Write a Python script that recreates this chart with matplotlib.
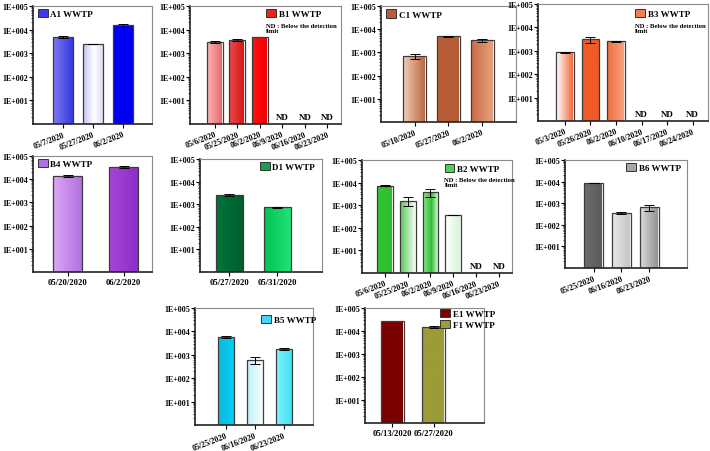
import numpy as np
import matplotlib
matplotlib.use('Agg')
import matplotlib.pyplot as plt
from matplotlib.colors import to_rgb
from matplotlib.patches import Patch
from matplotlib.ticker import FixedLocator, LogLocator, NullFormatter

# ---------------- data ----------------
a1_dates = ['05/7/2020', '05/27/2020', '06/2/2020']
a1_values = [4800, 2450, 15000]
a1_errors = [500, 80, 2500]

b1_dates = ['05/6/2020', '05/25/2020', '06/2/2020', '06/9/2020', '06/16/2020', '06/23/2020']
b1_values = [2950, 3600, 4900]
b1_errors = [250, 250, 0]

c1_dates = ['05/10/2020', '05/27/2020', '06/2/2020']
c1_values = [700, 5000, 3400]
c1_errors = [170, 200, 500]

b3_dates = ['05/3/2020', '05/26/2020', '06/2/2020', '06/10/2020', '06/17/2020', '06/24/2020']
b3_values = [870, 3100, 2600]
b3_errors = [60, 900, 150]

b4_dates = ['05/20/2020', '06/2/2020']
b4_values = [14000, 34500]
b4_errors = [1500, 3000]

d1_dates = ['05/27/2020', '05/31/2020']
d1_values = [2600, 730]
d1_errors = [200, 40]

b2_dates = ['05/6/2020', '05/25/2020', '06/2/2020', '06/9/2020', '06/16/2020', '06/23/2020']
b2_values = [7300, 1600, 3700, 370]
b2_errors = [400, 700, 1300, 10]

b6_dates = ['05/25/2020', '06/16/2020', '06/23/2020']
b6_values = [8700, 355, 650]
b6_errors = [150, 30, 200]

b5_dates = ['05/25/2020', '06/16/2020', '06/23/2020']
b5_values = [5900, 600, 1780]
b5_errors = [700, 180, 150]

ef_dates = ['05/13/2020', '05/27/2020']
ef_values = [26500, 15400]
ef_errors = [0, 1500]
ef_labels = ['E1 WWTP', 'F1 WWTP']

ytick_values = [1e1, 1e2, 1e3, 1e4, 1e5]
ytick_labels = ['1E+001', '1E+002', '1E+003', '1E+004', '1E+005']
ND_NOTE = 'ND : Below the detection\nlimit'

# ---------------- drawing ----------------
W, H = 710, 452
fig = plt.figure(figsize=(W / 100, H / 100), dpi=100)
SERIF = ['Liberation Serif', 'DejaVu Serif']


def gradient_image(colors):
    cols = np.array([to_rgb(c) for c in colors])
    pos = np.linspace(0, 1, len(cols))
    t = np.linspace(0, 1, 96)
    img = np.stack([np.interp(t, pos, cols[:, k]) for k in range(3)], axis=-1)
    return img[None, :, :]


def panel(box, cats, vals, errs, grads, xlim, width, rot, labels, leg_colors,
          leg_xy, nd_note_xy=None):
    l, r, t, b = box
    ax = fig.add_axes([l / W, 1 - b / H, (r - l) / W, (b - t) / H])
    ax.set_yscale('log')
    x = np.arange(len(cats))
    nv = len(vals)
    for xi, v, g in zip(x[:nv], vals, grads):
        ax.imshow(gradient_image(g), extent=[xi - width / 2, xi + width / 2, 1, v],
                  aspect='auto', zorder=2, interpolation='bilinear')
    ax.bar(x[:nv], vals, width=width, facecolor='none', edgecolor='#3c3c3c',
           linewidth=0.9, zorder=3)
    ex = [xi for xi, e in zip(x[:nv], errs) if e > 0]
    ev = [v for v, e in zip(vals, errs) if e > 0]
    ee = [e for e in errs if e > 0]
    if ex:
        ax.errorbar(ex, ev, yerr=ee, fmt='none', ecolor='black', elinewidth=0.7,
                    capsize=3.5, capthick=0.7, zorder=4)
    for xi in x[nv:]:
        ax.text(xi, 1.35, 'ND', ha='center', va='bottom', fontsize=6.5,
                family=SERIF, weight='bold')
    ax.set_xlim(*xlim)
    ax.set_ylim(1, 1e5)
    ax.yaxis.set_major_locator(FixedLocator(ytick_values))
    ax.set_yticklabels(ytick_labels)
    ax.yaxis.set_minor_locator(LogLocator(base=10, subs=np.arange(2, 10), numticks=20))
    ax.yaxis.set_minor_formatter(NullFormatter())
    ax.set_xticks(x)
    if rot:
        ax.set_xticklabels(cats, rotation=21, ha='right', rotation_mode='anchor')
        xfs = 5.8
    else:
        ax.set_xticklabels(cats)
        xfs = 6.2
    for lab in ax.get_xticklabels():
        lab.set_family(SERIF)
        lab.set_weight('bold')
        lab.set_fontsize(xfs)
    for lab in ax.get_yticklabels():
        lab.set_family(SERIF)
        lab.set_weight('bold')
        lab.set_fontsize(5.8)
    ax.tick_params(axis='y', which='major', length=3, width=0.8, pad=0.6)
    ax.tick_params(axis='y', which='minor', length=1.6, width=0.5)
    ax.tick_params(axis='x', length=3, width=0.8, pad=1.5)
    for s in ['left', 'bottom']:
        ax.spines[s].set_linewidth(1.2)
        ax.spines[s].set_color('#222222')
    for s in ['top', 'right']:
        ax.spines[s].set_linewidth(0.8)
        ax.spines[s].set_color('#8a8a8a')
    handles = [Patch(facecolor=c, edgecolor='#333333', linewidth=0.7) for c in leg_colors]
    ax.legend(handles, labels, loc='upper left', bbox_to_anchor=leg_xy, frameon=False,
              prop={'family': SERIF, 'weight': 'bold', 'size': 6.5},
              handlelength=1.1, handleheight=1.0, handletextpad=0.3,
              borderpad=0, borderaxespad=0, labelspacing=0.15)
    if nd_note_xy is not None:
        ax.text(nd_note_xy[0], nd_note_xy[1], ND_NOTE, transform=ax.transAxes,
                ha='left', va='top', fontsize=4.8, family=SERIF, weight='bold',
                linespacing=1.1)
    return ax


# Row 1
panel((33, 152, 7, 125), a1_dates, a1_values, a1_errors,
      [['#7a7af2', '#3434e2'], ['#c4c4f4', '#ffffff', '#dcdcf8'], ['#0000f0', '#0000f0']],
      (-1.0, 2.97), 0.67, True, ['A1 WWTP'], ['#3a3af0'], (0.04, 0.975))

panel((190, 341, 7, 125), b1_dates, b1_values, b1_errors,
      [['#f8b4b4', '#e86464'], ['#ea4848', '#d41414'], ['#ff1010', '#f00000']],
      (-1.1, 5.6), 0.7, True, ['B1 WWTP'], ['#f02020'], (0.505, 0.975), (0.505, 0.86))

panel((381, 516, 7, 123), c1_dates, c1_values, c1_errors,
      [['#f0ccb4', '#b8643e'], ['#b85c35', '#b85c35'], ['#cc6a44', '#e8a482']],
      (-1.0, 3.0), 0.67, True, ['C1 WWTP'], ['#b85c35'], (0.04, 0.97))

panel((538, 708, 5, 122), b3_dates, b3_values, b3_errors,
      [['#ffffff', '#f06232'], ['#f05a28', '#f05a28'], ['#f07040', '#f8a484']],
      (-1.05, 5.6), 0.68, True, ['B3 WWTP'], ['#f47c50'], (0.57, 0.96), (0.57, 0.84))

# Row 2
panel((33, 152, 157, 273), b4_dates, b4_values, b4_errors,
      [['#dca6f4', '#b070e0'], ['#a646d6', '#8c2cc6']],
      (-0.62, 1.51), 0.52, False, ['B4 WWTP'], ['#b070e0'], (0.04, 0.975))

panel((200, 322, 160, 273), d1_dates, d1_values, d1_errors,
      [['#00743c', '#005e2e'], ['#00c452', '#24e27a']],
      (-0.61, 1.93), 0.57, False, ['D1 WWTP'], ['#14a050'], (0.49, 0.975))

panel((362, 512, 161, 274), b2_dates, b2_values, b2_errors,
      [['#34c434', '#30bc30'], ['#5ccc5c', '#ffffff'], ['#8ae48a', '#34c034', '#ffffff'],
       ['#ffffff', '#d4f4d4']],
      (-1.0, 5.57), 0.7, True, ['B2 WWTP'], ['#50d050'], (0.55, 0.965), (0.55, 0.85))

panel((565, 687, 161, 269), b6_dates, b6_values, b6_errors,
      [['#6c6c6c', '#5a5a5a'], ['#e6e6e6', '#c4c4c4'], ['#d8d8d8', '#8c8c8c']],
      (-1.03, 3.36), 0.68, True, ['B6 WWTP'], ['#a8a8a8'], (0.5, 0.97))

# Row 3
panel((195, 313, 309, 426), b5_dates, b5_values, b5_errors,
      [['#10b8e0', '#00d4f2'], ['#c0f0fa', '#ffffff'], ['#80f0ff', '#40e0f2']],
      (-1.07, 3.0), 0.57, True, ['B5 WWTP'], ['#40d8f4'], (0.56, 0.94))

panel((365, 484, 309, 424), ef_dates, ef_values, ef_errors,
      [['#7b0000', '#7b0000'], ['#9b9b38', '#9b9b38']],
      (-0.67, 2.23), 0.56, False, ef_labels, ['#7b0000', '#9b9b38'], (0.63, 0.99))

fig.savefig('out.png', dpi=100)
